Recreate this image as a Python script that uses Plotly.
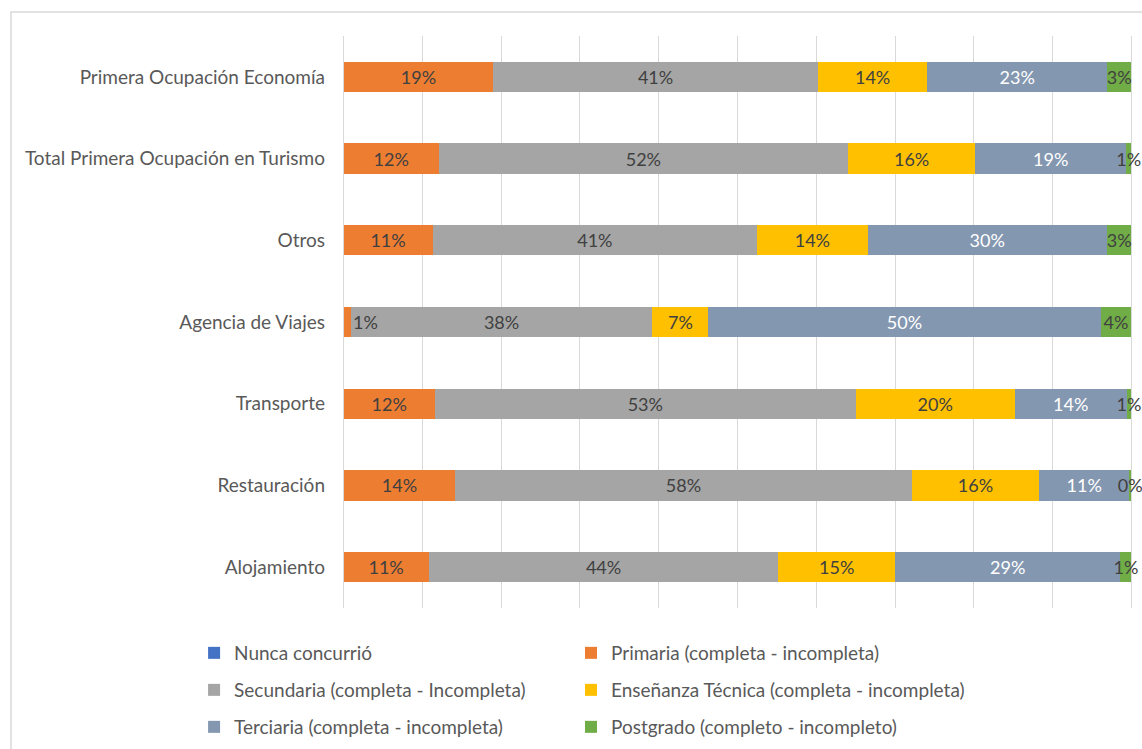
import plotly.graph_objects as go

categories = ["Alojamiento", "Restauración", "Transporte", "Agencia de Viajes", "Otros",
              "Total Primera Ocupación en Turismo", "Primera Ocupación Economía"]

series_names = ["Nunca concurrió", "Primaria (completa - incompleta)",
                "Secundaria (completa - Incompleta)", "Enseñanza Técnica (completa - incompleta)",
                "Terciaria (completa - incompleta)", "Postgrado (completo - incompleto)"]

nunca = [0, 0, 0, 0, 0, 0, 0]
primaria = [10.8, 14.2, 11.6, 0.9, 11.3, 12.1, 19.0]
secundaria = [44.4, 57.9, 53.4, 38.3, 41.2, 51.9, 41.2]
tecnica = [14.8, 16.2, 20.2, 7.1, 14.0, 16.2, 13.9]
terciaria = [28.6, 11.4, 14.2, 49.8, 30.4, 19.1, 22.8]
postgrado = [1.4, 0.3, 0.6, 3.9, 3.1, 0.7, 3.1]

series_values = [nunca, primaria, secundaria, tecnica, terciaria, postgrado]
colors = ["#4472C4", "#ED7D31", "#A5A5A5", "#FFC000", "#8497B0", "#70AD47"]
text_colors = ["#404040", "#404040", "#404040", "#404040", "#FFFFFF", "#404040"]

FONT = "Lato"

# plot area: x 342..1133 maps -0.2..100.2 ; y 36..608
PW, PH = 791, 572
BOTTOM = 608

fig = go.Figure()
annotations = []
for i, (name, vals) in enumerate(zip(series_names, series_values)):
    show_text = i != 0
    templates = []
    for cat, v in zip(categories, vals):
        if i == 1 and v < 2:
            # tiny first segment: label placed just right of the segment (as in the original)
            templates.append("")
            annotations.append(dict(x=v, y=cat, xref="x", yref="y", xanchor="left",
                                    text=f"{v:.0f}%", showarrow=False,
                                    font=dict(family=FONT, size=18, color=text_colors[i])))
        else:
            templates.append("%{x:.0f}%")
    fig.add_trace(go.Bar(
        y=categories, x=vals, name=name, orientation="h",
        marker=dict(color=colors[i], line=dict(width=0)),
        texttemplate=templates if show_text else None,
        textposition="inside" if show_text else "none",
        insidetextanchor="middle",
        textangle=0,
        constraintext="none",
        textfont=dict(family=FONT, size=18, color=text_colors[i]),
        cliponaxis=False,
        legend="legend" if i == 0 else f"legend{i + 1}",
        hoverinfo="name+x",
    ))

legend_common = dict(orientation="h", xanchor="left", yanchor="middle",
                     font=dict(family=FONT, size=19, color="#595959"), itemwidth=30,
                     bgcolor="rgba(0,0,0,0)")
row_y = [653, 690, 727]
col_x = [-0.187, 0.2895]
legends = {}
for i in range(6):
    key = "legend" if i == 0 else f"legend{i + 1}"
    legends[key] = dict(legend_common, x=col_x[i % 2], y=-(row_y[i // 2] - BOTTOM) / PH)

fig.update_layout(
    barmode="stack",
    bargap=0.63,
    width=1142, height=749,
    margin=dict(l=342, r=9, t=36, b=749 - BOTTOM, autoexpand=False),
    paper_bgcolor="white", plot_bgcolor="white",
    font=dict(family=FONT, size=19, color="#595959"),
    xaxis=dict(range=[-0.2, 100.2], tick0=0, dtick=10, showgrid=True, gridcolor="#D9D9D9", gridwidth=1,
               showticklabels=False, zeroline=False, showline=False, fixedrange=True),
    yaxis=dict(showgrid=False, zeroline=False, showline=False, ticks="",
               ticklabelstandoff=16, tickfont=dict(family=FONT, size=19, color="#595959")),
    showlegend=True,
    annotations=annotations,
    shapes=[dict(type="rect", xref="paper", yref="paper",
                 x0=(11 - 342) / PW, x1=(1160 - 342) / PW,
                 y0=-(760 - BOTTOM) / PH, y1=(BOTTOM - 12) / PH,
                 line=dict(color="#D9D9D9", width=1.5), fillcolor="rgba(0,0,0,0)", layer="below")],
    **legends,
)

fig.write_html("out.html", config={"displayModeBar": False},
               post_script="document.body.style.margin='0';document.body.style.overflow='hidden';")
